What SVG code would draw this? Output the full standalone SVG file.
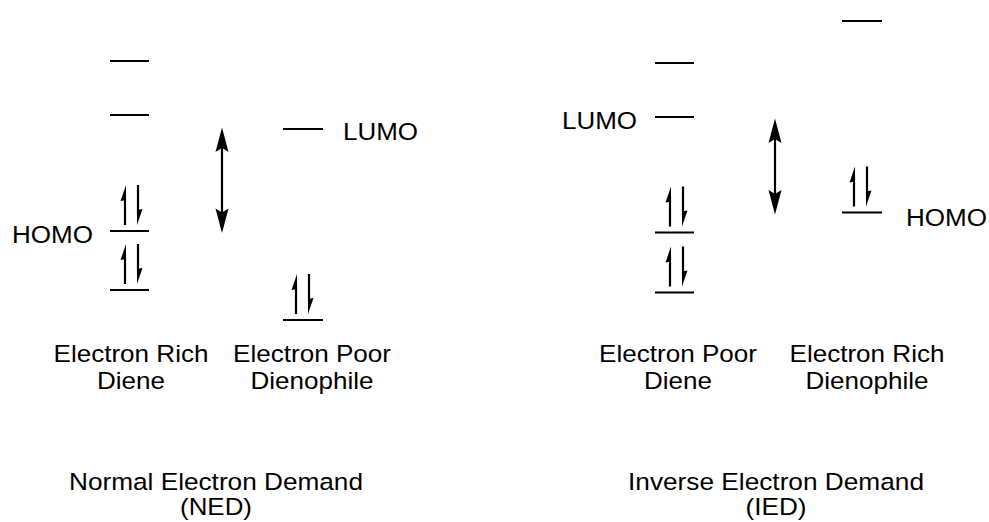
<svg xmlns="http://www.w3.org/2000/svg" xmlns:xlink="http://www.w3.org/1999/xlink" width="989" height="522" viewBox="0 0 989 522">
<style>
  .lvl{stroke:#000;stroke-width:1.8;fill:none}
  .sh{stroke:#000;stroke-width:2.2;fill:none}
  .hd{fill:#000;stroke:none}
  text{font-family:"Liberation Sans",Arial,sans-serif;font-size:24.5px;fill:#000}
  .m{text-anchor:middle}
  .e{text-anchor:end}
</style>
<defs>
  <g id="ep">
    <line class="sh" x1="15" y1="-6" x2="15" y2="-36"/>
    <polygon class="hd" points="16,-46 16,-31 10.5,-30"/>
    <line class="sh" x1="28" y1="-46" x2="28" y2="-16"/>
    <polygon class="hd" points="27,-6 27,-21 32.5,-22"/>
  </g>
</defs>
<rect width="989" height="522" fill="#fff"/>

<g id="ned-diene">
  <line class="lvl" x1="110" y1="61" x2="149" y2="61"/>
  <line class="lvl" x1="110" y1="115" x2="149" y2="115"/>
  <line class="lvl" x1="110" y1="231" x2="149" y2="231"/>
  <line class="lvl" x1="110" y1="290" x2="149" y2="290"/>
  <use xlink:href="#ep" transform="translate(110,231)"/>
  <use xlink:href="#ep" transform="translate(110,290)"/>
  <text class="e" x="93" y="242.5" textLength="81" lengthAdjust="spacingAndGlyphs">HOMO</text>
  <text class="m" x="131" y="361.5" textLength="155" lengthAdjust="spacingAndGlyphs">Electron Rich</text>
  <text class="m" x="131" y="388.5" textLength="68" lengthAdjust="spacingAndGlyphs">Diene</text>
</g>

<g id="ned-dienophile">
  <line class="lvl" x1="283" y1="129" x2="323" y2="129"/>
  <line class="lvl" x1="283" y1="320" x2="323" y2="320"/>
  <use xlink:href="#ep" transform="translate(281,320)"/>
  <text x="343" y="140" textLength="75" lengthAdjust="spacingAndGlyphs">LUMO</text>
  <text class="m" x="312" y="361.5" textLength="158" lengthAdjust="spacingAndGlyphs">Electron Poor</text>
  <text class="m" x="312" y="388.5" textLength="123" lengthAdjust="spacingAndGlyphs">Dienophile</text>
</g>

<g id="ied-diene">
  <line class="lvl" x1="655" y1="63" x2="694" y2="63"/>
  <line class="lvl" x1="655" y1="117" x2="694" y2="117"/>
  <line class="lvl" x1="655" y1="232.5" x2="694" y2="232.5"/>
  <line class="lvl" x1="655" y1="292.5" x2="694" y2="292.5"/>
  <use xlink:href="#ep" transform="translate(655,232.5)"/>
  <use xlink:href="#ep" transform="translate(655,292.5)"/>
  <text class="e" x="637" y="128.5" textLength="75" lengthAdjust="spacingAndGlyphs">LUMO</text>
  <text class="m" x="678" y="361.5" textLength="158" lengthAdjust="spacingAndGlyphs">Electron Poor</text>
  <text class="m" x="678" y="388.5" textLength="68" lengthAdjust="spacingAndGlyphs">Diene</text>
</g>

<g id="ied-dienophile">
  <line class="lvl" x1="842" y1="21" x2="882" y2="21"/>
  <line class="lvl" x1="842" y1="212.5" x2="882" y2="212.5"/>
  <use xlink:href="#ep" transform="translate(839,212.5)"/>
  <text x="906" y="226" textLength="81" lengthAdjust="spacingAndGlyphs">HOMO</text>
  <text class="m" x="867" y="361.5" textLength="155" lengthAdjust="spacingAndGlyphs">Electron Rich</text>
  <text class="m" x="867" y="388.5" textLength="123" lengthAdjust="spacingAndGlyphs">Dienophile</text>
</g>

<g id="titles">
  <text class="m" x="216" y="489.5" textLength="294" lengthAdjust="spacingAndGlyphs">Normal Electron Demand</text>
  <text class="m" x="216" y="514.5" textLength="72" lengthAdjust="spacingAndGlyphs">(NED)</text>
  <text class="m" x="776" y="489.5" textLength="296" lengthAdjust="spacingAndGlyphs">Inverse Electron Demand</text>
  <text class="m" x="776" y="514.5" textLength="61" lengthAdjust="spacingAndGlyphs">(IED)</text>
</g>

<g id="connectors">
  <g id="gap-ned">
    <line class="sh" x1="222" y1="145" x2="222" y2="215"/>
    <polygon class="hd" points="222,127.5 228.5,152 222,148 215.5,152"/>
    <polygon class="hd" points="222,233 215.5,208.5 222,212.5 228.5,208.5"/>
  </g>
  <g id="gap-ied">
    <line class="sh" x1="775" y1="136" x2="775" y2="197"/>
    <polygon class="hd" points="775,118.5 781.5,143 775,139 768.5,143"/>
    <polygon class="hd" points="775,214.5 768.5,190 775,194 781.5,190"/>
  </g>
</g>
</svg>
